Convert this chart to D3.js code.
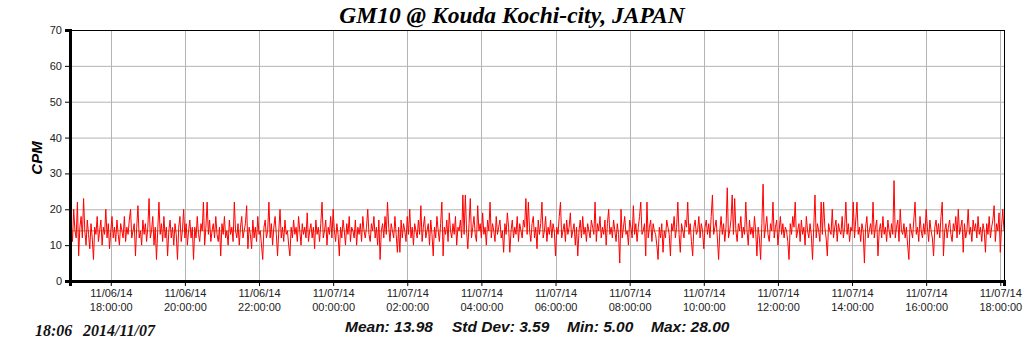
<!DOCTYPE html>
<html lang="en">
<head>
<meta charset="UTF-8">
<title>GM10 @ Kouda Kochi-city, JAPAN</title>
<script src="https://d3js.org/d3.v7.min.js"></script>
<style>
    body { margin: 0; background: #fff; }
    svg { display: block; }
    .tick text { font-family: Arial, "Liberation Sans", sans-serif; font-size: 11px; fill: #222; }
</style>
</head>
<body>
<div id="chart"></div>
<script>
// title and stats text
const chartTitle = "GM10 @ Kouda Kochi-city, JAPAN";
const yLabel = "CPM";
const stamp = ["18:06", "2014/11/07"];
const stats = ["Mean: 13.98", "Std Dev: 3.59", "Min: 5.00", "Max: 28.00"];
const meanValue = 13.98;

// time range (one reading every 2 minutes)
const startTime = new Date(2014, 10, 6, 16, 54);
const endTime = new Date(2014, 10, 7, 18, 6);
const stepMinutes = 2;
const yTicks = [0, 10, 20, 30, 40, 50, 60, 70];

// CPM readings
const cpm = [
13,16,11,20,14,12,22,7,15,18,12,23,14,10,17,13,9,16,12,6,
15,13,18,11,14,17,10,15,13,20,12,16,9,14,18,12,15,11,17,13,
10,16,14,12,18,11,15,13,17,20,12,14,16,7,15,21,12,14,10,17,
13,16,11,15,23,12,14,18,10,15,6,14,22,13,16,11,18,12,15,7,
14,17,12,15,10,16,13,6,15,18,11,14,20,12,16,10,14,17,12,15,
6,15,12,18,13,11,16,14,22,10,15,22,13,17,11,14,16,12,18,13,
11,15,7,16,13,18,12,14,10,17,13,15,11,22,14,12,16,10,15,18,
12,14,16,21,9,15,13,9,17,12,15,11,18,13,14,10,6,15,17,12,
14,22,12,16,10,15,18,13,7,14,20,12,15,11,17,13,14,10,7,15,
12,17,13,15,11,18,14,10,16,13,15,12,19,11,14,16,12,15,9,17,
13,15,11,16,22,12,14,17,10,15,13,18,12,20,14,11,16,13,7,15,
12,17,14,10,16,13,18,11,15,14,12,17,10,15,13,16,11,18,14,12,
15,20,13,11,16,14,18,12,15,10,17,6,14,16,12,18,13,22,15,11,
16,14,12,18,13,8,15,8,17,12,16,14,11,18,13,20,12,15,10,16,
14,12,17,13,21,11,15,18,12,14,16,10,17,13,7,15,12,18,14,11,
16,22,7,15,13,17,11,19,14,12,16,13,18,10,15,14,17,12,24,13,
24,14,9,16,23,12,15,18,13,11,21,14,16,12,19,13,15,10,17,14,
22,12,16,14,11,18,13,15,17,12,14,8,16,13,19,15,8,14,17,12,
15,13,18,11,16,14,12,17,15,23,13,22,14,11,16,18,12,15,9,17,
13,16,22,12,14,18,11,15,13,17,12,16,14,7,15,13,18,22,12,14,
16,11,17,13,15,19,12,14,16,10,15,7,14,17,12,18,13,15,11,16,
14,12,17,15,13,22,11,16,14,18,12,15,13,17,10,16,20,13,15,12,
17,14,11,16,13,5,20,12,15,18,13,14,10,17,15,12,21,13,16,11,
15,18,22,13,14,16,7,22,12,15,17,11,16,14,13,10,6,15,12,16,
8,14,12,17,15,13,7,16,14,18,12,15,22,13,8,16,14,12,17,15,
22,13,16,11,7,15,17,13,14,18,12,16,14,9,15,17,13,16,12,18,
24,13,15,17,12,6,14,18,13,16,11,15,26,12,14,17,24,13,23,14,
11,16,14,18,12,15,13,22,14,10,17,13,15,12,18,14,7,15,12,6,
16,27,12,15,18,13,11,16,14,22,12,15,17,10,14,18,13,16,12,15,
14,11,6,16,13,18,15,22,12,14,16,11,17,13,15,10,18,14,12,16,
13,6,15,24,12,16,14,11,22,13,22,15,12,7,16,14,13,20,12,15,
17,11,16,14,13,18,12,15,22,13,16,11,15,14,22,12,17,22,13,15,
11,16,14,5,15,18,12,14,16,13,22,12,15,17,7,14,16,12,18,13,
15,11,17,14,12,16,13,28,12,15,17,11,20,14,13,16,12,15,10,6,
16,14,12,17,22,13,15,11,18,14,12,16,13,20,15,11,17,14,12,7,
15,17,13,16,12,18,22,7,14,16,12,15,17,13,11,16,14,18,12,20,
13,15,17,8,16,12,14,20,13,15,11,17,14,16,12,18,13,15,11,16,
14,8,16,13,18,12,15,17,21,11,16,14,19,8,15,20,14
];

const data = cpm.map((v, i) => ({
    t: new Date(startTime.getTime() + i * stepMinutes * 60000),
    v: v
}));

const width = 1024, height = 351;
const margin = { top: 30, right: 20, bottom: 70, left: 70 };
const innerW = width - margin.left - margin.right;
const innerH = height - margin.top - margin.bottom;

const svg = d3.select("#chart").append("svg")
    .attr("width", width)
    .attr("height", height);

const g = svg.append("g")
    .attr("transform", `translate(${margin.left},${margin.top})`);

const x = d3.scaleTime().domain([startTime, endTime]).range([0, innerW]);
const y = d3.scaleLinear().domain([0, 70]).range([innerH, 0]);

// every 2 hours, 18:00 .. 18:00
const xTickValues = d3.timeHour.every(2).range(startTime, endTime);

// grid
g.append("g").selectAll("line")
    .data(yTicks.slice(1, -1))
    .join("line")
    .attr("x1", 0).attr("x2", innerW)
    .attr("y1", d => y(d) + 0.5).attr("y2", d => y(d) + 0.5)
    .attr("stroke", "#b4b4b4");

g.append("g").selectAll("line")
    .data(xTickValues)
    .join("line")
    .attr("x1", d => Math.round(x(d)) + 0.5).attr("x2", d => Math.round(x(d)) + 0.5)
    .attr("y1", 0).attr("y2", innerH)
    .attr("stroke", "#b4b4b4");

// mean line
g.append("line")
    .attr("x1", 0).attr("x2", innerW)
    .attr("y1", y(meanValue)).attr("y2", y(meanValue))
    .attr("stroke", "#a08c3c");

// data line
g.append("path")
    .datum(data)
    .attr("fill", "none")
    .attr("stroke", "#ff0000")
    .attr("stroke-width", 1)
    .attr("d", d3.line().x(d => x(d.t)).y(d => y(d.v)));

// frame: thin top and right
g.append("line").attr("x1", 0).attr("x2", innerW).attr("y1", 0.5).attr("y2", 0.5).attr("stroke", "#000");
g.append("line").attr("x1", innerW + 0.5).attr("x2", innerW + 0.5).attr("y1", 0).attr("y2", innerH).attr("stroke", "#000");

// y axis
const yAxis = g.append("g")
    .call(d3.axisLeft(y).tickValues(yTicks).tickSize(5).tickPadding(3));
yAxis.select(".domain").attr("stroke-width", 3);

// x axis
const fmtDate = d3.timeFormat("%m/%d/%y");
const fmtTime = d3.timeFormat("%H:%M:%S");
const xAxis = g.append("g")
    .attr("transform", `translate(0,${innerH})`)
    .call(d3.axisBottom(x).tickValues(xTickValues).tickSize(5).tickFormat(""));
xAxis.select(".domain").attr("stroke-width", 3);
xAxis.selectAll(".tick").append("text")
    .attr("fill", "#222")
    .attr("text-anchor", "middle")
    .each(function (d) {
        const t = d3.select(this);
        t.append("tspan").attr("x", 0).attr("y", 16).text(fmtDate(d));
        t.append("tspan").attr("x", 0).attr("y", 30).text(fmtTime(d));
    });

// title
svg.append("text")
    .attr("x", 512).attr("y", 23)
    .attr("text-anchor", "middle")
    .attr("font-family", "'Liberation Serif', 'Times New Roman', serif")
    .attr("font-weight", "bold").attr("font-style", "italic")
    .attr("font-size", 23.5)
    .text(chartTitle);

// y label
svg.append("text")
    .attr("transform", "translate(42,158) rotate(-90)")
    .attr("text-anchor", "middle")
    .attr("font-family", "Arial, 'Liberation Sans', sans-serif")
    .attr("font-weight", "bold").attr("font-style", "italic")
    .attr("font-size", 15)
    .text(yLabel);

// stats line
const statX = [345, 452, 567, 651];
svg.append("g").selectAll("text")
    .data(stats)
    .join("text")
    .attr("x", (d, i) => statX[i]).attr("y", 332)
    .attr("font-family", "Arial, 'Liberation Sans', sans-serif")
    .attr("font-weight", "bold").attr("font-style", "italic")
    .attr("font-size", 15.5)
    .attr("fill", "#111")
    .text(d => d);

// time stamp
const stampX = [35, 83];
svg.append("g").selectAll("text")
    .data(stamp)
    .join("text")
    .attr("x", (d, i) => stampX[i]).attr("y", 336)
    .attr("font-family", "'Liberation Serif', 'Times New Roman', serif")
    .attr("font-weight", "bold").attr("font-style", "italic")
    .attr("font-size", 16)
    .attr("fill", "#111")
    .text(d => d);
</script>
</body>
</html>
